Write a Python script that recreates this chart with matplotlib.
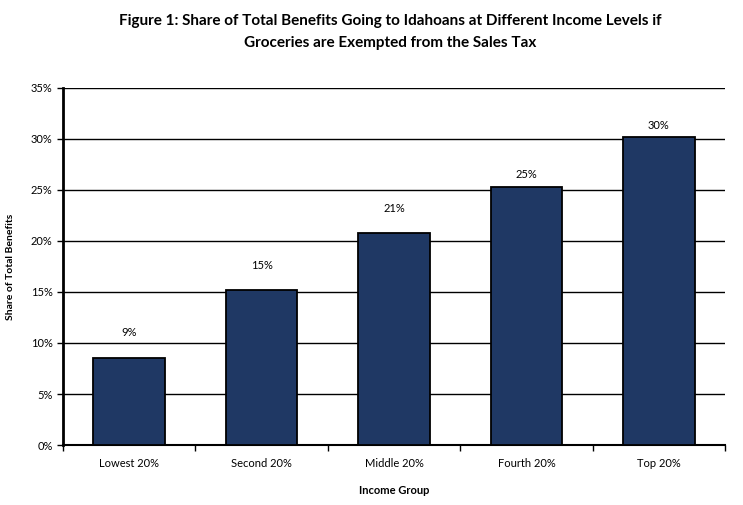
import matplotlib
matplotlib.use('Agg')
import matplotlib.pyplot as plt
import numpy as np
from matplotlib.ticker import PercentFormatter

plt.rcParams['font.family'] = ['Lato', 'DejaVu Sans']

# data
groups = ['Lowest 20%', 'Second 20%', 'Middle 20%', 'Fourth 20%', 'Top 20%']
shares = [8.5, 15.2, 20.8, 25.3, 30.2]
share_labels = ['9%', '15%', '21%', '25%', '30%']
# gap between bar top and its label (in % units), labels were hand placed
label_gap = [2.5, 2.4, 2.4, 1.2, 1.1]

fig = plt.figure(figsize=(7.43, 5.05), dpi=100)
ax = fig.add_axes([0.0848, 0.1188, 0.891, 0.707])

x_axis = np.arange(len(groups))
bars = ax.bar(x_axis, shares, 0.54, color='#1f3864', edgecolor='black', linewidth=1.3, zorder=3)

for b, lab, g in zip(bars, share_labels, label_gap):
    ax.text(b.get_x() + b.get_width() / 2, b.get_height() + g, lab,
            ha='center', va='center', fontsize=8)

ax.set_xlim(-0.5, len(groups) - 0.5)
ax.set_ylim(0, 35)
ax.set_yticks(np.arange(0, 36, 5))
ax.yaxis.set_major_formatter(PercentFormatter(decimals=0))
ax.grid(axis='y', color='black', linewidth=1, zorder=0)

ax.set_xticks(x_axis)
ax.set_xticklabels(groups, fontsize=8)
ax.set_xticks(np.arange(-0.5, len(groups)), minor=True)
ax.tick_params(axis='x', which='major', length=0, pad=9)
ax.tick_params(axis='x', which='minor', length=4, width=1, color='black')
ax.tick_params(axis='y', labelsize=8, length=4, width=1)

for s in ['top', 'right']:
    ax.spines[s].set_visible(False)
ax.spines['left'].set_linewidth(2)
ax.spines['bottom'].set_linewidth(1.5)

ax.set_xlabel('Income Group', fontsize=8, fontweight='bold', labelpad=12)
ax.set_ylabel('Share of Total Benefits', fontsize=7.5, fontweight='bold', labelpad=11)

fig.text(0.525, 0.972, 'Figure 1: Share of Total Benefits Going to Idahoans at Different Income Levels if\nGroceries are Exempted from the Sales Tax',
         ha='center', va='top', fontsize=11, fontweight='bold', linespacing=1.75)

fig.savefig('out.png', dpi=100)
